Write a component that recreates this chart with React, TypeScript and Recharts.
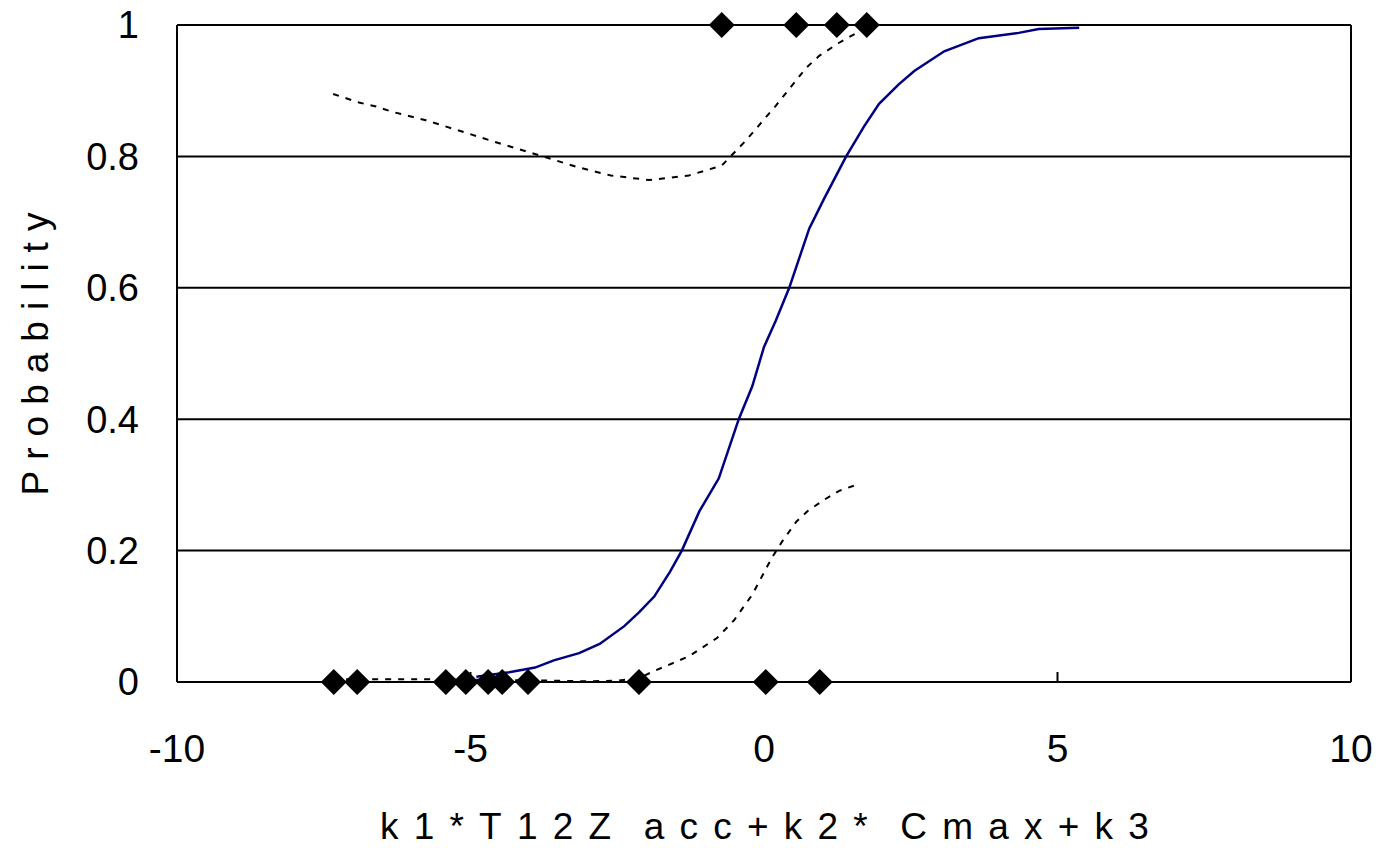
import React from 'react';
import {
  ComposedChart,
  Line,
  Scatter,
  XAxis,
  YAxis,
  CartesianGrid,
  ReferenceLine,
  Label,
} from 'recharts';

// fitted probability curve
const fitX = [-4.9, -4.34, -3.9, -3.58, -3.15, -2.8, -2.38, -2.13, -1.87, -1.6, -1.4, -1.1, -0.77, -0.43, -0.2, 0, 0.2, 0.43, 0.77, 1.02, 1.4, 1.7, 1.96, 2.3, 2.56, 3.07, 3.66, 4.34, 4.68, 5.37];
const fitP = [0.008, 0.015, 0.022, 0.033, 0.044, 0.058, 0.085, 0.106, 0.13, 0.168, 0.2, 0.26, 0.31, 0.4, 0.45, 0.51, 0.55, 0.6, 0.69, 0.735, 0.8, 0.845, 0.88, 0.91, 0.93, 0.96, 0.98, 0.988, 0.994, 0.996];

// upper confidence band
const upX = [-7.34, -6.9, -6.61, -6.34, -5.76, -5.08, -4.51, -3.95, -3.15, -2.61, -1.96, -1.28, -0.72, -0.31, 0.2, 0.72, 0.94, 1.28, 1.62];
const upP = [0.895, 0.882, 0.876, 0.868, 0.855, 0.836, 0.82, 0.805, 0.783, 0.771, 0.764, 0.771, 0.786, 0.824, 0.877, 0.935, 0.953, 0.973, 0.99];

// lower confidence band
const loX = [-7.34, -6.5, -5.5, -4.5, -3.5, -3.0, -2.5, -2.13, -1.84, -1.28, -0.8, -0.51, -0.2, 0.14, 0.31, 0.55, 0.74, 1.0, 1.28, 1.57];
const loP = [0.004, 0.004, 0.004, 0.003, 0.002, 0.001, 0.002, 0.006, 0.018, 0.039, 0.067, 0.094, 0.133, 0.19, 0.214, 0.244, 0.26, 0.276, 0.291, 0.3];

// observed outcomes
const posX = [-0.72, 0.55, 1.24, 1.75];
const negX = [-7.33, -6.93, -5.42, -5.08, -4.7, -4.46, -4.02, -2.13, 0.03, 0.95];

const xTicks = [-10, -5, 0, 5, 10];
const yTicks = [0, 0.2, 0.4, 0.6, 0.8, 1];

const FONT = '"Liberation Sans", Arial, sans-serif';

const fitData = fitX.map((x, i) => ({ x, p: fitP[i] }));
const upData = upX.map((x, i) => ({ x, p: upP[i] }));
const loData = loX.map((x, i) => ({ x, p: loP[i] }));
const obsData = [
  ...posX.map((x) => ({ x, p: 1 })),
  ...negX.map((x) => ({ x, p: 0 })),
];

const Diamond = (props: any) => {
  const { cx, cy } = props;
  const r = 13;
  return (
    <polygon
      points={`${cx},${cy - r} ${cx + r},${cy} ${cx},${cy + r} ${cx - r},${cy}`}
      fill="#000"
    />
  );
};

const XTick = ({ x, y, payload }: any) => (
  <text x={x} y={y} dy="0.35em" textAnchor="middle" fontSize={39} fontFamily={FONT} fill="#000">
    {payload.value}
  </text>
);

const YTick = ({ x, y, payload }: any) => (
  <text x={x} y={y} dy="0.35em" textAnchor="end" fontSize={38} fontFamily={FONT} fill="#000">
    {payload.value}
  </text>
);

export default function App() {
  return (
    <div style={{ width: 1383, height: 848 }}>
      <style>{`body{margin:0}`}</style>
      <ComposedChart width={1383} height={848} margin={{ top: 25, right: 32, bottom: 0, left: 0 }}>
        <CartesianGrid vertical={false} stroke="#000" strokeWidth={2} />
        <XAxis
          type="number"
          dataKey="x"
          domain={[-10, 10]}
          ticks={xTicks}
          height={166}
          stroke="#000"
          strokeWidth={2}
          tickSize={-10}
          tickMargin={76}
          tick={<XTick />}
        >
          <Label
            content={({ viewBox }: any) => (
              <text
                x={viewBox.x + viewBox.width / 2 + 8}
                y={viewBox.y + 144}
                dy="0.35em"
                textAnchor="middle"
                fontSize={37}
                fontFamily={FONT}
                letterSpacing={15.2}
                wordSpacing={-8}
                fill="#000"
              >
                k1*T12Z acc+k2* Cmax+k3
              </text>
            )}
          />
        </XAxis>
        <YAxis
          type="number"
          domain={[0, 1]}
          ticks={yTicks}
          width={177}
          stroke="#000"
          strokeWidth={2}
          tickLine={false}
          tickSize={0}
          tickMargin={38}
          tick={<YTick />}
        >
          <Label
            content={({ viewBox }: any) => {
              const cx = 35;
              const cy = viewBox.y + viewBox.height / 2 - 5;
              return (
                <text
                  x={cx}
                  y={cy}
                  dy="0.35em"
                  textAnchor="middle"
                  transform={`rotate(-90 ${cx} ${cy})`}
                  fontSize={37}
                  fontFamily={FONT}
                  letterSpacing={11}
                  fill="#000"
                >
                  Probability
                </text>
              );
            }}
          />
        </YAxis>
        <ReferenceLine x={10} stroke="#000" strokeWidth={2} />
        <Line
          data={upData}
          dataKey="p"
          type="linear"
          stroke="#000"
          strokeWidth={2}
          strokeDasharray="6 7"
          dot={false}
          isAnimationActive={false}
        />
        <Line
          data={loData}
          dataKey="p"
          type="linear"
          stroke="#000"
          strokeWidth={2}
          strokeDasharray="6 7"
          dot={false}
          isAnimationActive={false}
        />
        <Line
          data={fitData}
          dataKey="p"
          type="linear"
          stroke="#000080"
          strokeWidth={2.5}
          dot={false}
          isAnimationActive={false}
        />
        <Scatter data={obsData} dataKey="p" shape={<Diamond />} isAnimationActive={false} />
      </ComposedChart>
    </div>
  );
}
